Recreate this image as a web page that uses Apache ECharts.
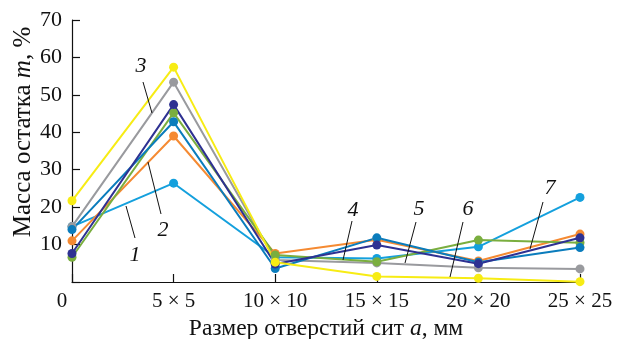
<!DOCTYPE html>
<html><head><meta charset="utf-8">
<script src="https://cdn.jsdelivr.net/npm/echarts@6/dist/echarts.min.js"></script>
<style>html,body{margin:0;padding:0;background:#fff}#c{width:618px;height:339px}</style>
</head><body><div id="c"></div>
<script>
const categories = ['0', '5 × 5', '10 × 10', '15 × 15', '20 × 20', '25 × 25'];
const yTicks = [10, 20, 30, 40, 50, 60, 70];
const sLightBlue = [14.8, 26.4, 6.6, 6.3, 9.4, 22.6];
const sOrange    = [11.0, 39.0, 7.6, 11.3, 5.6, 12.8];
const sGray      = [14.8, 53.4, 5.9, 5.1, 3.8, 3.5];
const sGreen     = [6.6, 45.2, 7.2, 5.4, 11.2, 10.5];
const sTeal      = [14.0, 42.8, 3.6, 11.8, 5.3, 9.2];
const sNavy      = [7.6, 47.4, 4.8, 9.9, 4.9, 11.8];
const sYellow    = [21.7, 57.4, 5.3, 1.5, 1.0, 0.1];
const seriesDefs = [
  {name: '1', data: sLightBlue, color: '#14a0dd'},
  {name: '2', data: sOrange, color: '#f58a32'},
  {name: 'gray', data: sGray, color: '#999a9e'},
  {name: 'green', data: sGreen, color: '#7aae3f'},
  {name: 'teal', data: sTeal, color: '#0a7cbc'},
  {name: 'navy', data: sNavy, color: '#2e3192'},
  {name: 'yellow', data: sYellow, color: '#f7ec14'}
];
const SERIF = '"Liberation Serif", "DejaVu Serif", serif';
const chart = echarts.init(document.getElementById('c'), null, {renderer: 'canvas'});
const notes = [
  {t: '1', x: 135, y: 255, l: [126, 206, 135, 238]},
  {t: '2', x: 163, y: 230, l: [148, 162, 161, 214]},
  {t: '3', x: 141, y: 66, l: [143, 82, 152, 113]},
  {t: '4', x: 353, y: 210, l: [352, 221, 343, 260]},
  {t: '5', x: 419, y: 209, l: [416, 222, 405, 263]},
  {t: '6', x: 468, y: 209, l: [463, 222, 450, 277]},
  {t: '7', x: 550, y: 188, l: [543, 202, 530, 249]}
];
const graphics = [];
notes.forEach(n => {
  graphics.push({type: 'line', z: 50, shape: {x1: n.l[0], y1: n.l[1], x2: n.l[2], y2: n.l[3]}, style: {stroke: '#111', lineWidth: 1}});
  graphics.push({type: 'text', z: 50, x: n.x, y: n.y, style: {text: n.t, font: 'italic 22px ' + SERIF, fill: '#111', textAlign: 'center', textVerticalAlign: 'middle'}});
});
graphics.push({type: 'text', z: 50, x: 23, y: 132, rotation: Math.PI / 2,
  style: {text: '{n|Масса остатка }{i|m}{n|, %}', textAlign: 'center', textVerticalAlign: 'middle',
    rich: {n: {font: '25px ' + SERIF, fill: '#111'}, i: {font: 'italic 25px ' + SERIF, fill: '#111'}}}});
chart.setOption({
  animation: false,
  backgroundColor: '#fff',
  grid: {left: 72, right: 38, top: 20, bottom: 57, containLabel: false, outerBoundsMode: 'none'},
  xAxis: {
    type: 'category', data: categories, boundaryGap: false,
    axisLine: {show: true, onZero: false, lineStyle: {color: '#111', width: 1.2}},
    axisTick: {show: true, inside: true, length: 8, alignWithLabel: true, lineStyle: {color: '#111', width: 1.2}},
    axisLabel: {color: '#111', fontFamily: SERIF, fontSize: 21, margin: 9,
      formatter: v => v === '0' ? '{z|0}' : v,
      rich: {z: {fontFamily: SERIF, fontSize: 21, color: '#111', padding: [0, 20, 0, 0]}}},
    splitLine: {show: false},
    name: '{n|Размер отверстий сит }{i|a}{n|, мм}', nameLocation: 'middle', nameGap: 35,
    nameTextStyle: {rich: {n: {fontFamily: SERIF, fontSize: 23.5, color: '#111'}, i: {fontFamily: SERIF, fontStyle: 'italic', fontSize: 23.5, color: '#111'}}}
  },
  yAxis: {
    type: 'value', min: 0, max: 70, interval: 10,
    axisLine: {show: true, lineStyle: {color: '#111', width: 1.2}},
    axisTick: {show: true, inside: true, length: 8, lineStyle: {color: '#111', width: 1.2}},
    axisLabel: {color: '#111', fontFamily: SERIF, fontSize: 22, margin: 10,
      formatter: v => yTicks.includes(v) ? String(v) : ''},
    splitLine: {show: false}
  },
  series: seriesDefs.map(s => ({
    name: s.name, type: 'line', data: s.data, symbol: 'circle', symbolSize: 9,
    lineStyle: {color: s.color, width: 2}, itemStyle: {color: s.color}, z: 2
  })),
  graphic: graphics
});
</script></body></html>
